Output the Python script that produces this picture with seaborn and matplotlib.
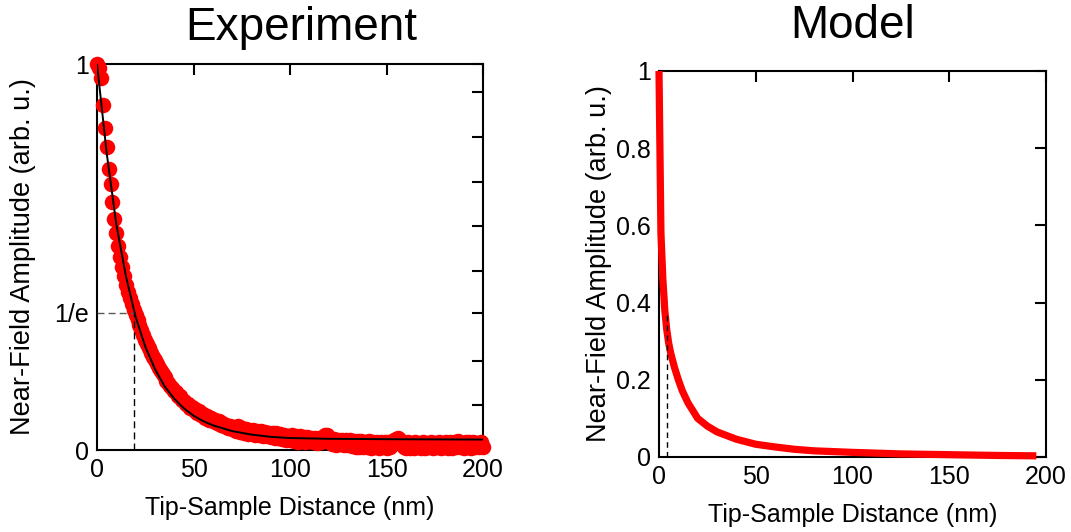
import numpy as np
import pandas as pd
import matplotlib
matplotlib.use("Agg")
import matplotlib.pyplot as plt
import seaborn as sns

# ---------------- data ----------------
exp_x = list(range(0, 201))  # nm, 1 nm sampling
exp_y = [
    1.000, 0.990, 0.964, 0.894, 0.835, 0.786, 0.728, 0.689, 0.642, 0.598, 0.562, 0.528,
    0.500, 0.474, 0.450, 0.428, 0.410, 0.393, 0.377, 0.362,
    0.350, 0.337, 0.323, 0.311, 0.298, 0.286, 0.274, 0.263, 0.252, 0.242, 0.232,
    0.222, 0.213, 0.204, 0.196, 0.188, 0.180, 0.173, 0.166, 0.160, 0.153,
    0.150, 0.140, 0.139, 0.129, 0.128, 0.119, 0.120, 0.110, 0.112, 0.103,
    0.106, 0.096, 0.100, 0.090, 0.094, 0.084, 0.088, 0.079, 0.083, 0.074,
    0.079, 0.070, 0.074, 0.065, 0.070, 0.061, 0.066, 0.057, 0.063, 0.054,
    0.060, 0.050, 0.061, 0.047, 0.057, 0.045, 0.055, 0.041, 0.053, 0.043,
    0.051, 0.040, 0.050, 0.038, 0.048, 0.037, 0.047, 0.035, 0.045, 0.034,
    0.044, 0.032, 0.043, 0.030, 0.041, 0.028, 0.040, 0.026, 0.037, 0.027,
    0.038, 0.024, 0.035, 0.022, 0.036, 0.025, 0.033, 0.021, 0.034, 0.023,
    0.032, 0.020, 0.031, 0.019, 0.030, 0.021, 0.033, 0.038, 0.040, 0.032,
    0.029, 0.016, 0.028, 0.014, 0.027, 0.015, 0.026, 0.012, 0.025, 0.014,
    0.025, 0.010, 0.024, 0.009, 0.023, 0.008, 0.024, 0.007, 0.022, 0.009,
    0.023, 0.006, 0.021, 0.008, 0.022, 0.005, 0.020, 0.007, 0.021, 0.006,
    0.020, 0.007, 0.022, 0.025, 0.029, 0.030, 0.027, 0.020, 0.009, 0.005,
    0.021, 0.006, 0.019, 0.004, 0.020, 0.007, 0.018, 0.005, 0.021, 0.006,
    0.019, 0.008, 0.022, 0.005, 0.018, 0.007, 0.021, 0.004, 0.019, 0.008,
    0.022, 0.006, 0.020, 0.005, 0.021, 0.009, 0.023, 0.007, 0.019, 0.006,
    0.021, 0.008, 0.020, 0.006, 0.022, 0.009, 0.019, 0.007, 0.020, 0.008,
]

fit_x = [0, 5, 10, 15, 20, 25, 30, 35, 40, 45, 50, 55, 60, 70, 80, 90, 100, 120, 150, 200]
fit_y = [1.0, 0.77, 0.585, 0.45, 0.345, 0.268, 0.21, 0.165, 0.133, 0.108, 0.089, 0.075,
         0.064, 0.049, 0.040, 0.034, 0.031, 0.029, 0.028, 0.027]

model_x = [0, 1, 2, 3, 4, 5, 6, 8, 10, 12, 15, 20, 25, 30, 40, 50, 60, 70, 80, 100, 125, 150, 175, 195]
model_y = [1.0, 0.58, 0.46, 0.38, 0.33, 0.295, 0.27, 0.232, 0.20, 0.172, 0.14, 0.10, 0.08,
           0.065, 0.046, 0.033, 0.026, 0.020, 0.016, 0.012, 0.008, 0.006, 0.004, 0.003]

exp_decay_x = 19.2      # nm, where experiment reaches 1/e
exp_level = 0.356       # 1/e level on experiment axis
model_decay_x = 4.3     # nm
model_level = 0.373

x_ticks = [0, 50, 100, 150, 200]
exp_yticks = [0, exp_level, 1]
exp_yticklabels = ["0", "1/e", "1"]
exp_minor = [0.1159, 0.2318, 0.4636, 0.5795, 0.6954, 0.8113, 0.9272]
model_yticks = [0, 0.2, 0.4, 0.6, 0.8, 1.0]
model_yticklabels = ["0", "0.2", "0.4", "0.6", "0.8", "1"]

titles = ["Experiment", "Model"]
xlabel = "Tip-Sample Distance (nm)"
ylabel = "Near-Field Amplitude (arb. u.)"

# ---------------- style ----------------
sns.set_theme(style="white")
plt.rcParams["font.family"] = ["Liberation Sans", "DejaVu Sans"]
plt.rcParams["axes.linewidth"] = 1.5
plt.rcParams["text.color"] = "black"
plt.rcParams["axes.labelcolor"] = "black"
plt.rcParams["xtick.color"] = "black"
plt.rcParams["ytick.color"] = "black"

fig = plt.figure(figsize=(10.71, 5.32), dpi=100)
ax1 = fig.add_axes([97 / 1071, 1 - 450 / 532, 386 / 1071, 386 / 532])
ax2 = fig.add_axes([659 / 1071, 1 - 457 / 532, 387 / 1071, 386 / 532])

df_exp = pd.DataFrame({"x": exp_x, "y": exp_y})
df_fit = pd.DataFrame({"x": fit_x, "y": fit_y})
df_model = pd.DataFrame({"x": model_x, "y": model_y})

# Experiment
sns.scatterplot(data=df_exp, x="x", y="y", ax=ax1, color="#ff0000", s=125,
                linewidth=0, clip_on=False, zorder=3)
sns.lineplot(data=df_fit, x="x", y="y", ax=ax1, color="black", lw=1.4,
             estimator=None, sort=False, zorder=4)
ax1.plot([0, exp_decay_x], [exp_level, exp_level], ls=(0, (5, 3)), color="0.35", lw=1.0, zorder=5)
ax1.plot([exp_decay_x, exp_decay_x], [0, exp_level], ls=(0, (5, 3)), color="black", lw=1.0, zorder=5)

# Model
sns.lineplot(data=df_model, x="x", y="y", ax=ax2, color="#ff0000", lw=5.2,
             estimator=None, sort=False, zorder=3, clip_on=False)
for ln in ax2.get_lines():
    ln.set_solid_capstyle("butt")
    ln.set_solid_joinstyle("round")
ax2.plot([model_decay_x, model_decay_x], [0, model_level], ls=(0, (4, 3)), color="black", lw=1.0, zorder=4)

for ax, title in zip([ax1, ax2], titles):
    ax.set_xlim(0, 200)
    ax.set_ylim(0, 1)
    ax.set_xticks(x_ticks)
    ax.set_xticklabels([str(t) for t in x_ticks])
    ax.tick_params(axis="both", which="both", direction="in", top=True, right=True,
                   length=8, width=1.5, labelsize=18, colors="black", pad=6)
    ax.set_xlabel(xlabel, fontsize=18, labelpad=10, color="black")
    for sp in ax.spines.values():
        sp.set_color("black")
        sp.set_linewidth(1.5)
        sp.set_zorder(2)

ax1.set_ylabel(ylabel, fontsize=19.5, labelpad=13, color="black")
ax2.set_ylabel(ylabel, fontsize=19.5, labelpad=3, color="black")

ax1.set_yticks(exp_yticks)
ax1.set_yticklabels(exp_yticklabels)
ax1.set_yticks(exp_minor, minor=True)
ax2.set_yticks(model_yticks)
ax2.set_yticklabels(model_yticklabels)

ax1.set_title(titles[0], fontsize=33, pad=17, x=0.53, color="black")
ax2.set_title(titles[1], fontsize=33, pad=24, color="black")

fig.savefig("out.png", dpi=100)
